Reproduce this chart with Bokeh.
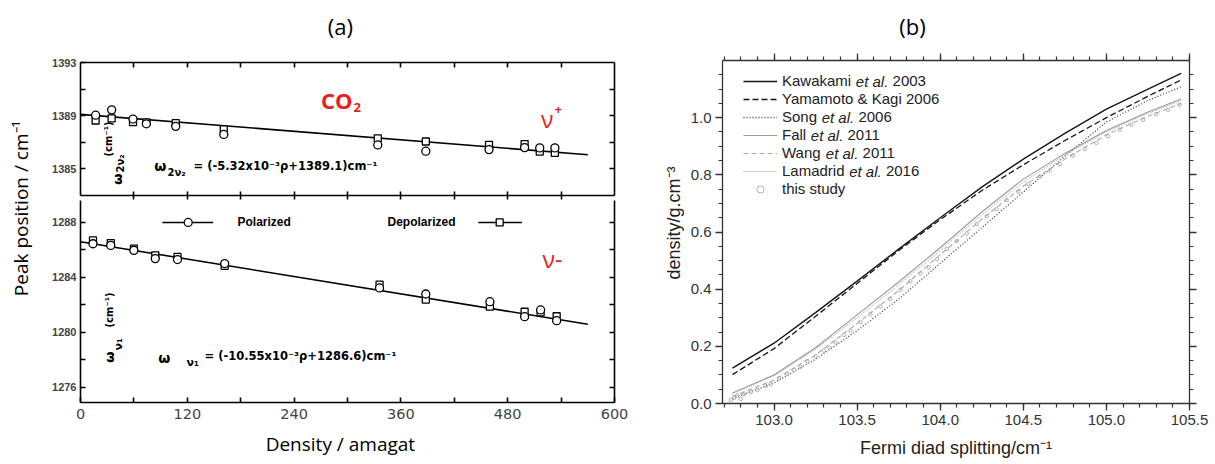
from bokeh.plotting import figure
from bokeh.layouts import row, column
from bokeh.models import (Range1d, LinearAxis, FixedTicker, SingleIntervalTicker, Label,
                          Legend, LegendItem, NumeralTickFormatter)
from bokeh.embed import file_html
from bokeh.resources import INLINE

# ---------------- (a) CO2 Raman peak positions versus density ----------------
# upper band: 2nu2 component
dens_up = [17, 35, 59, 74, 107, 161, 334, 388, 459, 499, 516, 533]
pol_up = [1389.04, 1389.44, 1388.75, 1388.39, 1388.20, 1387.59, 1386.80, 1386.33, 1386.45, 1386.60, 1386.58, 1386.58]
dep_up = [1388.64, 1388.80, 1388.51, 1388.50, 1388.44, 1387.98, 1387.30, 1387.06, 1386.80, 1386.87, 1386.30, 1386.20]
# lower band: nu1 component
dens_lo = [14, 34, 60, 84, 109, 162, 336, 388, 460, 499, 517, 535]
pol_lo = [1286.45, 1286.33, 1285.97, 1285.37, 1285.30, 1285.01, 1283.23, 1282.79, 1282.23, 1281.14, 1281.63, 1280.85]
dep_lo = [1286.69, 1286.50, 1286.09, 1285.61, 1285.49, 1284.84, 1283.47, 1282.38, 1281.87, 1281.50, 1281.46, 1281.17]
# linear fits quoted on the chart
slope_up, icpt_up = -5.32e-3, 1389.1
slope_lo, icpt_lo = -10.55e-3, 1286.6
fit_dens = [0, 570]
# key samples of the in-plot legend
key_pol_line = [92, 149]
key_pol_mark = [121]
key_dep_line = [447, 496]
key_dep_mark = [471]
key_level = 1288.0

x_ticks_a = [0, 120, 240, 360, 480, 600]
x_minor_a = [60, 180, 300, 420, 540]
y_ticks_up = [1385, 1389, 1393]
y_ticks_lo = [1276, 1280, 1284, 1288]

# ---------------- (b) density vs Fermi diad splitting ----------------
split_grid = [102.75, 103.0, 103.25, 103.5, 103.75, 104.0, 104.25, 104.5, 104.75, 105.0, 105.25, 105.45]
kawakami = [0.124, 0.211, 0.318, 0.428, 0.540, 0.650, 0.757, 0.855, 0.945, 1.030, 1.100, 1.155]
yamamoto = [0.101, 0.192, 0.305, 0.420, 0.535, 0.643, 0.745, 0.835, 0.920, 1.000, 1.075, 1.132]
song = [0.017, 0.072, 0.155, 0.255, 0.365, 0.490, 0.615, 0.740, 0.865, 0.985, 1.060, 1.108]
fall = [0.037, 0.100, 0.195, 0.310, 0.425, 0.545, 0.670, 0.785, 0.875, 0.955, 1.020, 1.065]
wang = [0.025, 0.082, 0.170, 0.280, 0.395, 0.520, 0.645, 0.760, 0.855, 0.940, 1.005, 1.050]
lamadrid = [0.035, 0.097, 0.190, 0.300, 0.415, 0.535, 0.660, 0.775, 0.870, 0.950, 1.015, 1.060]
study_x = [102.74, 102.76, 102.78, 102.80, 102.82, 102.86, 102.90, 102.95, 102.98, 103.03,
           103.08, 103.12, 103.16, 103.20, 103.25, 103.30, 103.33, 103.37, 103.42, 103.46,
           103.52, 103.58, 103.64, 103.70, 103.76, 103.82, 103.88, 103.93, 103.98, 104.04,
           104.10, 104.16, 104.22, 104.28, 104.34, 104.40, 104.47, 104.53, 104.60, 104.66,
           104.72, 104.80, 104.87, 104.94, 105.01, 105.08, 105.15, 105.22, 105.30, 105.37, 105.44]
study_y = [0.012, 0.020, 0.028, 0.016, 0.032, 0.040, 0.047, 0.062, 0.068, 0.088,
           0.104, 0.118, 0.128, 0.148, 0.165, 0.185, 0.196, 0.214, 0.240, 0.255,
           0.285, 0.312, 0.340, 0.366, 0.398, 0.428, 0.455, 0.476, 0.505, 0.540,
           0.568, 0.595, 0.628, 0.655, 0.680, 0.712, 0.742, 0.768, 0.795, 0.815,
           0.838, 0.868, 0.890, 0.912, 0.935, 0.958, 0.975, 0.992, 1.012, 1.028, 1.045]

series_b = [
    ("Kawakami", " et al.", " 2003", kawakami, "#161616", 1.4, "solid"),
    ("Yamamoto & Kagi 2006", "", "", yamamoto, "#161616", 1.3, "6 3"),
    ("Song", " et al.", " 2006", song, "#444444", 1.3, "1 2"),
    ("Fall", " et al.", " 2011", fall, "#9a9a9a", 1.1, "solid"),
    ("Wang", " et al.", " 2011", wang, "#aaaaaa", 1.1, "5 3"),
    ("Lamadrid", " et al.", " 2016", lamadrid, "#9e9e9e", 1.0, "1 1"),
]

# ---------------- frame geometry (page pixels) ----------------
A_LEFT, A_RIGHT = 80, 614
TITLE_H = 48
TOP_T, TOP_B = 62, 195
BOT_T, BOT_B = 200, 402
CAP_T = 430
UP_LO, UP_HI = 1383.0, 1393.0
LO_LO, LO_HI = 1274.89, 1289.6
B_PAGE_X, YLAB_W = 640, 44
B_LEFT, B_RIGHT, B_TOP, B_BOT = 722, 1189, 60, 403
BX_LO, BX_HI = 102.69, 105.5


def up_y(py):
    return UP_HI - (py - TOP_T) * (UP_HI - UP_LO) / (TOP_B - TOP_T)


def lo_y(py):
    return LO_HI - (py - BOT_T) * (LO_HI - LO_LO) / (BOT_B - BOT_T)


def a_x(px):
    return (px - A_LEFT) * 600.0 / (A_RIGHT - A_LEFT)


def b_x(px):
    return BX_LO + (px - B_LEFT) * (BX_HI - BX_LO) / (B_RIGHT - B_LEFT)


def b_y(py):
    return (B_BOT - py) * 1.2 / (B_BOT - B_TOP)


def add_text(p, x, y, text, size, font="Liberation Sans", style="normal", color="black",
             align="left", baseline="middle", angle=0):
    p.add_layout(Label(x=x, y=y, text=text, text_font=font, text_font_size=f"{size}px",
                       text_font_style=style, text_color=color, text_align=align,
                       text_baseline=baseline, angle=angle, angle_units="deg"))


def strip(w, h):
    """A bare drawing area whose data units are pixels (y upwards)."""
    s = figure(width=w, height=h, x_range=Range1d(0, w), y_range=Range1d(0, h),
               output_backend="svg", toolbar_location=None, x_axis_location=None,
               y_axis_location=None, min_border=0)
    s.grid.visible = False
    s.outline_line_color = None
    return s


def tick_axis(ticks, minor, tin=5, tout=0, **kw):
    return LinearAxis(ticker=FixedTicker(ticks=ticks, minor_ticks=minor),
                      major_tick_in=tin, major_tick_out=tout, minor_tick_in=tin, minor_tick_out=tout,
                      axis_line_width=1.6, major_tick_line_width=1.6, minor_tick_line_width=1.6,
                      axis_line_color="black", major_tick_line_color="black",
                      minor_tick_line_color="black", **kw)


RED = "#ee1c1c"
EQ_FONT = "DejaVu Sans"

# ---- title and caption strips of (a)
title_a = strip(600, TITLE_H)
add_text(title_a, 332 - 40, TITLE_H - 25, "(a)", 22, font="Open Sans", align="center")
cap_a = strip(600, 464 - CAP_T)
add_text(cap_a, 332 - 40, 464 - 443, "Density / amagat", 19, font="Open Sans", align="center")

# ---- upper half of (a)
top = figure(width=600, height=BOT_T - TITLE_H, x_range=Range1d(0, 600), y_range=Range1d(UP_LO, UP_HI),
             output_backend="svg", toolbar_location=None, x_axis_location=None, y_axis_location=None,
             min_border_left=A_LEFT - 40, min_border_right=640 - A_RIGHT,
             min_border_top=TOP_T - TITLE_H, min_border_bottom=BOT_T - TOP_B)
top.grid.visible = False
top.outline_line_color = None
top.add_layout(tick_axis(y_ticks_up, [1387, 1391], major_label_standoff=4,
                         major_label_text_font="Liberation Sans", major_label_text_font_style="bold",
                         major_label_text_font_size="11px"), "left")
top.add_layout(tick_axis([], x_minor_a + x_ticks_a[1:-1]), "above")
top.add_layout(tick_axis([], [1385, 1387, 1389, 1391]), "right")
top.add_layout(tick_axis([], x_minor_a + x_ticks_a[1:-1], tin=4, tout=4), "below")

top.line(fit_dens, [icpt_up + slope_up * d for d in fit_dens], line_color="black", line_width=1.6)
top.scatter(dens_up, dep_up, marker="square", size=7, fill_color="white", line_color="black", line_width=1.3)
top.scatter(dens_up, pol_up, marker="circle", size=8, fill_color="white", line_color="black", line_width=1.3)

add_text(top, a_x(352), up_y(99), "CO", 22, font="Open Sans", style="bold", color=RED, align="right")
add_text(top, a_x(353), up_y(107), "2", 13, font="Open Sans", style="bold", color=RED)
add_text(top, a_x(553), up_y(118), "ν", 23, font="Open Sans", color=RED, align="right")
add_text(top, a_x(554), up_y(109), "+", 13, font="Open Sans", style="bold", color=RED)
add_text(top, a_x(166), up_y(165), "ω", 14, font=EQ_FONT, style="bold", align="right")
add_text(top, a_x(167), up_y(172), "2ν₂", 10, font=EQ_FONT, style="bold")
add_text(top, a_x(193), up_y(165), "= (-5.32x10⁻³ρ+1389.1)cm⁻¹", 11.5, font=EQ_FONT, style="bold")
add_text(top, a_x(117), up_y(173), "ω", 13, font=EQ_FONT, style="bold", align="right", angle=90)
add_text(top, a_x(120), up_y(172), "2ν₂", 10, font=EQ_FONT, style="bold", angle=90)
add_text(top, a_x(107.5), up_y(156), "(cm⁻¹)", 10, font=EQ_FONT, style="bold", angle=90)

# ---- lower half of (a)
bot = figure(width=600, height=CAP_T - BOT_T, x_range=top.x_range, y_range=Range1d(LO_LO, LO_HI),
             output_backend="svg", toolbar_location=None, x_axis_location=None, y_axis_location=None,
             min_border_left=A_LEFT - 40, min_border_right=640 - A_RIGHT,
             min_border_top=0, min_border_bottom=CAP_T - BOT_B)
bot.grid.visible = False
bot.outline_line_color = None
bot.add_layout(tick_axis(y_ticks_lo, [1278, 1282, 1286], major_label_standoff=4,
                         major_label_text_font="Liberation Sans", major_label_text_font_style="bold",
                         major_label_text_font_size="11px"), "left")
bot.add_layout(tick_axis(x_ticks_a, x_minor_a, major_label_standoff=6,
                         major_label_text_font="DejaVu Sans", major_label_text_font_size="14.5px"), "below")
bot.add_layout(tick_axis([], [1276, 1278, 1280, 1282, 1284, 1286, 1288]), "right")

bot.line(fit_dens, [icpt_lo + slope_lo * d for d in fit_dens], line_color="black", line_width=1.6)
bot.scatter(dens_lo, dep_lo, marker="square", size=7, fill_color="white", line_color="black", line_width=1.3)
bot.scatter(dens_lo, pol_lo, marker="circle", size=8, fill_color="white", line_color="black", line_width=1.3)

# in-plot legend keys
bot.line(key_pol_line, [key_level] * 2, line_color="black", line_width=1.4)
bot.scatter(key_pol_mark, [key_level], marker="circle", size=8, fill_color="white", line_color="black", line_width=1.3)
bot.line(key_dep_line, [key_level] * 2, line_color="black", line_width=1.4)
bot.scatter(key_dep_mark, [key_level], marker="square", size=7, fill_color="white", line_color="black", line_width=1.3)
add_text(bot, a_x(237), key_level, "Polarized", 12, style="bold")
add_text(bot, a_x(387), key_level, "Depolarized", 12, style="bold")

add_text(bot, a_x(552), lo_y(258), "ν-", 23, font="Open Sans", color=RED, align="center")
add_text(bot, a_x(170), lo_y(357), "ω", 14, font=EQ_FONT, style="bold", align="right")
add_text(bot, a_x(186), lo_y(362), "ν₁", 11, font=EQ_FONT, style="bold")
add_text(bot, a_x(204), lo_y(355), "= (-10.55x10⁻³ρ+1286.6)cm⁻¹", 11.5, font=EQ_FONT, style="bold")
add_text(bot, a_x(109), lo_y(351), "ω", 13, font=EQ_FONT, style="bold", align="right", angle=90)
add_text(bot, a_x(118), lo_y(350), "ν₁", 11, font=EQ_FONT, style="bold", angle=90)
add_text(bot, a_x(109), lo_y(327), "(cm⁻¹)", 10, font=EQ_FONT, style="bold", angle=90)

# ---- shared y title of (a)
lab = strip(40, 464)
add_text(lab, 20, 464 - 208, "Peak position / cm⁻¹", 19, font="Open Sans", align="center", angle=90)

# ---------------- panel (b)
title_b = strip(575, TITLE_H)
add_text(title_b, 912 - B_PAGE_X, TITLE_H - 25, "(b)", 22, font="Open Sans", align="center")
ylab_b = strip(YLAB_W, 464 - TITLE_H)
add_text(ylab_b, 673 - B_PAGE_X, 464 - 245, "density/g.cm⁻³", 18, color="#222222",
         align="center", angle=90)

fb = figure(width=575 - YLAB_W, height=464 - TITLE_H, x_range=Range1d(BX_LO, BX_HI), y_range=Range1d(0, 1.2),
            output_backend="svg", toolbar_location=None, x_axis_location=None, y_axis_location=None,
            min_border_left=B_LEFT - B_PAGE_X - YLAB_W, min_border_right=1215 - B_RIGHT,
            min_border_top=B_TOP - TITLE_H, min_border_bottom=464 - B_BOT)
fb.grid.visible = False
fb.outline_line_color = None

axis_style = dict(axis_line_color="#333333", axis_line_width=1.3,
                  major_tick_line_color="#333333", minor_tick_line_color="#333333",
                  major_tick_line_width=1.3, minor_tick_line_width=1.2,
                  major_tick_in=0, major_tick_out=7, minor_tick_in=0, minor_tick_out=4)
lab_style = dict(major_label_text_font="Liberation Sans", major_label_text_font_size="15px",
                 major_label_text_color="#333333")
hidden = dict(major_label_text_font_size="0px", major_label_text_color=None, major_label_standoff=0)

xb = LinearAxis(ticker=SingleIntervalTicker(interval=0.5, num_minor_ticks=5),
                formatter=NumeralTickFormatter(format="0.0"), major_label_standoff=4,
                axis_label="Fermi diad splitting/cm⁻¹", axis_label_standoff=10,
                axis_label_text_font="Liberation Sans", axis_label_text_font_size="18px",
                axis_label_text_font_style="normal", axis_label_text_color="#222222",
                **axis_style, **lab_style)
yb = LinearAxis(ticker=SingleIntervalTicker(interval=0.2, num_minor_ticks=4),
                formatter=NumeralTickFormatter(format="0.0"), major_label_standoff=4,
                **axis_style, **lab_style)
fb.add_layout(xb, "below")
fb.add_layout(yb, "left")
fb.add_layout(LinearAxis(ticker=SingleIntervalTicker(interval=0.5, num_minor_ticks=5), **axis_style, **hidden), "above")
fb.add_layout(LinearAxis(ticker=SingleIntervalTicker(interval=0.2, num_minor_ticks=4), **axis_style, **hidden), "right")

items = []
for name, mid, year, vals, col, lw, dash in series_b:
    r = fb.line(split_grid, vals, line_color=col, line_width=lw, line_dash=dash)
    items.append((name, mid, year, r))
r_study = fb.scatter(study_x, study_y, marker="circle", size=3.5, fill_color=None,
                     line_color="#a8a8a8", line_width=0.9)
items.append(("this study", "", "", r_study))

ROW_H, LEG_TOP, GLYPH_W, STANDOFF, LEG_LEFT = 18, 71.5, 34, 5, 743
leg = Legend(items=[LegendItem(label=n, renderers=[r]) for n, _, _, r in items],
             location=(LEG_LEFT - B_LEFT, (B_BOT - B_TOP) - (LEG_TOP - B_TOP) - ROW_H * len(items)),
             padding=0, spacing=0, margin=0, glyph_width=GLYPH_W, glyph_height=ROW_H,
             label_height=ROW_H, label_standoff=STANDOFF, border_line_color=None,
             background_fill_alpha=0, label_text_font="Liberation Sans",
             label_text_font_size="15px", label_text_color="#222222")
fb.add_layout(leg)

# italic "et al." parts of the legend entries (Arial advance widths, 1/1000 em)
ADV = {" ": 278, "K": 667, "a": 556, "w": 722, "k": 500, "m": 833, "i": 222, "S": 667, "o": 556,
       "n": 556, "g": 556, "F": 611, "l": 222, "W": 944, "L": 556, "d": 556, "r": 333, "e": 556,
       "t": 278, ".": 278}


def text_w(s, size=15):
    return sum(ADV.get(c, 556) for c in s) * size / 1000.0


text_x0 = LEG_LEFT + GLYPH_W + STANDOFF
for i, (name, mid, year, _) in enumerate(items):
    if not mid:
        continue
    cy = LEG_TOP + ROW_H * (i + 0.5)
    x_mid = text_x0 + text_w(name + " ")
    add_text(fb, b_x(x_mid), b_y(cy), mid.strip(), 15, style="italic", color="#222222")
    x_year = x_mid + text_w(mid.strip() + " ")
    add_text(fb, b_x(x_year), b_y(cy), year.strip(), 15, color="#222222")

panel_a = row(lab, column(title_a, top, bot, cap_a))
panel_b = column(title_b, row(ylab_b, fb))
layout = row(panel_a, panel_b)
open("out.html", "w").write(file_html(layout, INLINE))
